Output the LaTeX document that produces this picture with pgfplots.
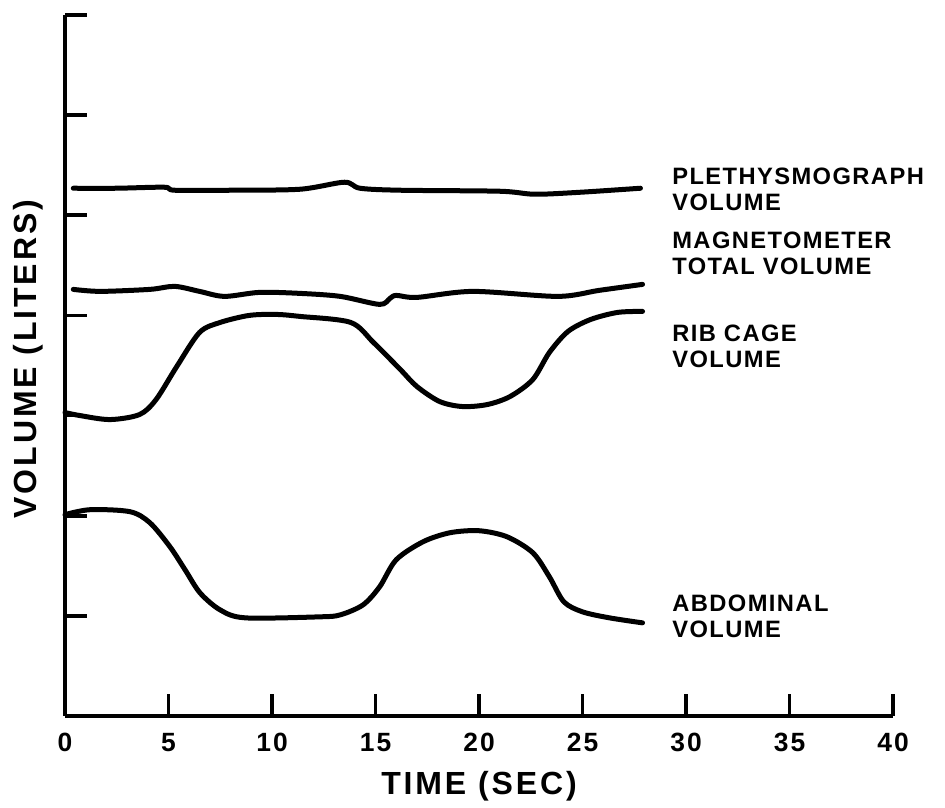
\documentclass[border=0pt]{standalone}
\usepackage{fontspec}
\setmainfont{Liberation Sans}
\usepackage{pgfplots}
\pgfplotsset{compat=1.18}
\begin{document}
\begin{tikzpicture}
\pgfplotsset{curve/.style={black, mark=none, line width=2.5pt, line cap=round, line join=round, smooth, tension=0.5}}
\begin{axis}[
  scale only axis, width=414pt, height=350.5pt,
  xmin=0, xmax=40, ymin=0, ymax=7,
  axis x line=bottom, axis y line=left,
  axis line style={-, line width=2pt},
  xtick={0,5,...,40}, ytick={1,2,...,7}, yticklabels={},
  tick align=inside, major tick length=11pt,
  tick style={line width=1.8pt, black},
  /pgf/number format/assume math mode=true,
  xticklabel style={anchor=north, inner sep=0pt, yshift=-8.5pt,
    font=\fontsize{13.2}{14}\bfseries\addfontfeature{LetterSpace=8}},
  clip=false,
]
% plethysmograph volume
\addplot[curve] coordinates {(0.4,5.27) (2.5,5.27) (4.8,5.28) (5.3,5.25) (8,5.25) (11.35,5.26) (13.5,5.33) (14.25,5.27) (16.2,5.25) (21.0,5.24) (22.7,5.21) (24.9,5.23) (27.8,5.27)};
% magnetometer total volume
\addplot[curve] coordinates {(0.4,4.26) (1.7,4.24) (4.1,4.26) (5.3,4.29) (6.5,4.24) (7.7,4.19) (9.4,4.23) (11.35,4.22) (13.3,4.19) (15.2,4.11) (15.7,4.17) (16.0,4.20) (17.0,4.18) (19.7,4.24) (23.8,4.19) (25.8,4.25) (27.9,4.31)};
% rib cage volume
\addplot[curve] coordinates {(0,3.03) (0.72,3.00) (2.17,2.96) (3.6,3.01) (4.4,3.16) (5.4,3.49) (6.5,3.83) (7.5,3.93) (8.9,4.00) (10.2,4.01) (11.35,3.99) (13.8,3.93) (14.9,3.73) (16.2,3.46) (17.0,3.29) (18.1,3.14) (19.2,3.09) (20.4,3.11) (21.5,3.19) (22.6,3.36) (23.4,3.63) (24.3,3.84) (25.4,3.96) (26.7,4.03) (27.9,4.04)};
% abdominal volume
\addplot[curve] coordinates {(0,2.01) (1.21,2.06) (3.14,2.04) (4.1,1.93) (5.07,1.69) (5.8,1.46) (6.52,1.23) (7.49,1.06) (8.7,0.98) (12.3,0.99) (13.3,1.01) (14.4,1.11) (15.2,1.29) (16.0,1.56) (17.3,1.74) (18.6,1.83) (20.0,1.85) (21.35,1.79) (22.6,1.63) (23.4,1.39) (24.1,1.14) (25.0,1.04) (26.3,0.98) (27.9,0.93)};

\tikzset{lbl/.style={anchor=north west, inner sep=0pt, align=left,
  font=\fontsize{11.85}{13}\bfseries\addfontfeature{LetterSpace=6}}}
\node[lbl] at (axis cs:29.32,5.48) {PLETHYSMOGRAPH\\VOLUME};
\node[lbl] at (axis cs:29.32,4.84) {MAGNETOMETER\\TOTAL VOLUME};
\node[lbl] at (axis cs:29.32,3.91) {RIB CAGE\\VOLUME};
\node[lbl] at (axis cs:29.32,1.21) {ABDOMINAL\\VOLUME};

\node[font=\fontsize{16}{18}\bfseries\addfontfeature{LetterSpace=9}, inner sep=0pt]
  at ([yshift=-35pt]axis description cs:0.5,0) {TIME (SEC)};
\node[rotate=90, font=\fontsize{16}{18}\bfseries\addfontfeature{LetterSpace=9}, inner sep=0pt]
  at ([xshift=-18.5pt]axis description cs:0,0.509) {VOLUME (LITERS)};
\end{axis}
\pgfresetboundingbox
\path ([xshift=-32.5pt,yshift=-46pt]current axis.south west) rectangle ([xshift=26pt,yshift=7.5pt]current axis.north east);
\end{tikzpicture}
\end{document}
